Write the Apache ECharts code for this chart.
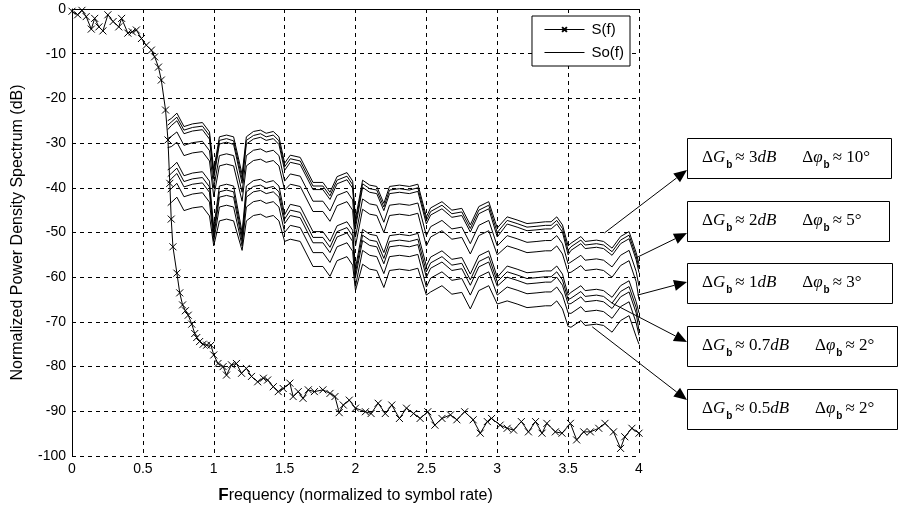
<!DOCTYPE html>
<html>
<head>
<meta charset="utf-8">
<script src="https://cdn.jsdelivr.net/npm/echarts@6/dist/echarts.min.js"></script>
<style>
html, body { margin: 0; padding: 0; background: #fff; }
#chart { width: 899px; height: 514px; }
</style>
</head>
<body>
<div id="chart"></div>
<script>
// S(f): spectrum with x markers
const sFreq = [0.00, 0.04, 0.07, 0.10, 0.136, 0.16, 0.19, 0.218, 0.253, 0.29, 0.33, 0.35, 0.394, 0.425, 0.454, 0.49, 0.524, 0.56, 0.583, 0.61,
  0.63, 0.66, 0.677, 0.69, 0.70, 0.712, 0.74, 0.76, 0.78, 0.80, 0.82, 0.845, 0.866, 0.88, 0.90, 0.925, 0.95, 0.98, 1.0, 1.03,
  1.066, 1.09, 1.125, 1.16, 1.196, 1.23, 1.266, 1.31, 1.35, 1.38, 1.42, 1.455, 1.49, 1.537, 1.56, 1.596, 1.63, 1.667, 1.71, 1.77,
  1.82, 1.855, 1.885, 1.914, 1.956, 2.0, 2.07, 2.11, 2.16, 2.21, 2.256, 2.31, 2.36, 2.41, 2.456, 2.51, 2.56, 2.61, 2.67, 2.715,
  2.77, 2.83, 2.88, 2.93, 2.96, 3.02, 3.07, 3.115, 3.17, 3.22, 3.27, 3.316, 3.35, 3.41, 3.457, 3.516, 3.56, 3.61, 3.657, 3.716,
  3.76, 3.82, 3.87, 3.90, 3.95, 4.0]
const sPsd = [-0.5, -1.3, -0.3, -1.7, -4.5, -2.1, -4.0, -4.9, -1.3, -2.8, -4.0, -2.1, -5.4, -5.1, -4.7, -6.6, -8.1, -9.2, -10.7, -13,
  -15.9, -22.6, -29.3, -39, -47, -53.2, -59.1, -63.5, -66.2, -67.5, -68.5, -70.5, -72.6, -73.5, -74.4, -75.0, -75.2, -75.2, -77.4, -79.3,
  -80, -81.9, -79.6, -79.3, -81.5, -80.4, -82.2, -83.4, -82.6, -83, -84.5, -85.6, -84.9, -83.7, -86.7, -85.6, -87.1, -85.2, -85.6, -85.2,
  -86, -86.7, -90.3, -88.6, -87.5, -89.3, -90.1, -90.5, -88.2, -90.5, -88.6, -91.6, -89.3, -90.5, -91.6, -90.1, -93.1, -91.6, -90.8, -91.9,
  -90.1, -91.9, -94.9, -92.3, -91.6, -93.1, -93.8, -94.2, -92.3, -94.6, -92.3, -94.9, -92.7, -94.6, -94.9, -92.7, -96.4, -94.6, -94.6, -93.8,
  -92.7, -94.6, -98.3, -95.7, -93.8, -94.9]

// So(f): output spectra, common frequency grid
const soFreq = [0.675, 0.70, 0.74, 0.79, 0.85, 0.92, 0.97, 1.00, 1.04, 1.09, 1.14, 1.20, 1.23, 1.28, 1.33, 1.37, 1.42, 1.46, 1.50, 1.54,
  1.61, 1.70, 1.77, 1.82, 1.87, 1.94, 1.98, 2.00, 2.05, 2.10, 2.15, 2.20, 2.24, 2.31, 2.38, 2.44, 2.50, 2.53, 2.61, 2.68,
  2.75, 2.81, 2.87, 2.94, 3.00, 3.07, 3.14, 3.21, 3.28, 3.34, 3.38, 3.42, 3.46, 3.50, 3.52, 3.59, 3.62, 3.70, 3.75, 3.81,
  3.87, 3.93, 3.98, 4.00]
const soA1 = [-25, -24.5, -23.3, -26.3, -25.7, -25.4, -27.5, -36, -28.6, -28.2, -28.6, -37, -28.6, -27.4, -27.1, -27.8, -27.4, -28.6, -34.5, -32.7,
  -33.2, -38.8, -38.8, -41, -37.5, -36.6, -38.5, -47, -38.3, -39.4, -39.7, -43.5, -39.7, -39.4, -39.7, -39.2, -46.5, -44.5, -43.1, -45,
  -44.6, -48.3, -44.2, -43.1, -49, -46.5, -47.2, -48, -47.8, -47.6, -47.6, -46.5, -48.3, -53, -52.4, -50.9, -52, -51.7, -52, -53.5,
  -50.9, -49.8, -54.5, -57]
const soA2 = [-26, -25.3, -24.2, -27.1, -26.5, -26.2, -28.3, -37, -29.4, -29.0, -29.5, -38, -29.4, -28.3, -27.9, -28.6, -28.2, -29.5, -35.3, -33.5,
  -34.0, -39.6, -39.6, -41.8, -38.3, -37.4, -39.3, -48, -39.1, -40.2, -40.5, -44.3, -40.5, -40.2, -40.5, -40.0, -47.3, -45.3, -43.9, -45.8,
  -45.4, -49.1, -45.0, -43.9, -50, -47.3, -48.0, -48.8, -48.6, -48.4, -48.4, -47.3, -49.1, -54, -53.2, -51.7, -52.8, -52.5, -52.8, -54.3,
  -51.7, -50.6, -55.3, -58]
const soA3 = [-27, -26.1, -25.0, -27.9, -27.3, -27.0, -29.1, -38, -30.2, -29.8, -30.3, -39, -30.2, -29.1, -28.7, -29.4, -29.0, -30.3, -36.1, -34.3,
  -34.8, -40.4, -40.4, -42.6, -39.1, -38.2, -40.1, -49, -39.9, -41.0, -41.3, -45.1, -41.3, -41.0, -41.3, -40.8, -48.1, -46.1, -44.7, -46.6,
  -46.2, -49.9, -45.8, -44.7, -51, -48.1, -48.8, -49.6, -49.4, -49.2, -49.2, -48.1, -49.9, -55, -54.0, -52.5, -53.6, -53.3, -53.6, -55.1,
  -52.5, -51.4, -56.1, -59]
const soB1 = [-29, -28.5, -27.5, -30.5, -29.9, -29.6, -31.7, -40, -32.8, -32.4, -32.8, -41, -32.8, -31.6, -31.3, -32.0, -31.6, -32.8, -38.5, -36.9,
  -37.4, -43.0, -43.0, -45.2, -41.7, -40.8, -42.7, -51, -42.5, -43.6, -43.9, -47.7, -43.9, -43.6, -43.9, -43.4, -50.7, -48.7, -47.3, -49.2,
  -48.8, -52.5, -48.4, -47.3, -53, -50.7, -51.4, -52.2, -52.0, -51.8, -51.8, -50.7, -52.5, -57, -56.6, -55.1, -56.2, -55.9, -56.2, -57.7,
  -55.1, -54.0, -58.7, -62]
const soB2 = [-31, -30.8, -29.8, -32.8, -32.2, -31.9, -34.0, -42, -35.1, -34.7, -35.1, -43, -35.1, -33.9, -33.6, -34.3, -33.9, -35.1, -40.5, -39.2,
  -39.7, -45.3, -45.3, -47.5, -44.0, -43.1, -45.0, -53, -44.8, -45.9, -46.2, -50.0, -46.2, -45.9, -46.2, -45.7, -53.0, -51.0, -49.6, -51.5,
  -51.1, -54.8, -50.7, -49.6, -55, -53.0, -53.7, -54.5, -54.3, -54.1, -54.1, -53.0, -54.8, -59, -58.9, -57.4, -58.5, -58.2, -58.5, -60.0,
  -57.4, -56.3, -61.0, -65]
const soC1 = [-36, -35.5, -34.3, -37.3, -36.7, -36.4, -38.5, -49, -39.6, -39.2, -39.6, -50, -39.6, -38.4, -38.1, -38.8, -38.4, -39.6, -46, -43.7,
  -44.2, -49.8, -49.8, -52, -48.5, -47.6, -49.5, -58, -49.3, -50.4, -50.7, -54.5, -50.7, -50.4, -50.7, -50.2, -57.5, -55.5, -54.1, -56,
  -55.6, -59.3, -55.2, -54.1, -60, -57.5, -58.2, -59.0, -58.8, -58.6, -58.6, -57.5, -59.3, -64, -63.4, -61.9, -63.0, -62.7, -63.0, -64.5,
  -61.9, -60.8, -65.5, -68]
const soC2 = [-37.5, -36.8, -35.6, -38.6, -38.0, -37.7, -39.8, -50, -40.9, -40.5, -40.9, -51, -40.9, -39.7, -39.4, -40.1, -39.7, -40.9, -47, -45.0,
  -45.5, -51.1, -51.1, -53.3, -49.8, -48.9, -50.8, -59, -50.6, -51.7, -52.0, -55.8, -52.0, -51.7, -52.0, -51.5, -58.8, -56.8, -55.4, -57.3,
  -56.9, -60.6, -56.5, -55.4, -61, -58.8, -59.5, -60.3, -60.1, -59.9, -59.9, -58.8, -60.6, -65, -64.7, -63.2, -64.3, -64.0, -64.3, -65.8,
  -63.2, -62.1, -66.8, -70]
const soC3 = [-39, -38.0, -36.8, -39.8, -39.2, -38.9, -41.0, -51, -42.1, -41.7, -42.1, -52, -42.1, -40.9, -40.6, -41.3, -40.9, -42.1, -48, -46.2,
  -46.7, -52.3, -52.3, -54.5, -51.0, -50.1, -52.0, -60, -51.8, -52.9, -53.2, -57.0, -53.2, -52.9, -53.2, -52.7, -60.0, -58.0, -56.6, -58.5,
  -58.1, -61.8, -57.7, -56.6, -62, -60.0, -60.7, -61.5, -61.3, -61.1, -61.1, -60.0, -61.8, -66, -65.9, -64.4, -65.5, -65.2, -65.5, -67.0,
  -64.4, -63.3, -68.0, -72]
const soD1 = [-41, -40.2, -39.0, -42.0, -41.4, -41.1, -43.2, -52, -44.3, -43.9, -44.3, -53, -44.3, -43.1, -42.8, -43.5, -43.1, -44.3, -50, -48.4,
  -48.9, -54.5, -54.5, -56.7, -53.2, -52.3, -54.2, -62, -54.0, -55.1, -55.4, -59.2, -55.4, -55.1, -55.4, -54.9, -62.2, -60.2, -58.8, -60.7,
  -60.3, -64.0, -59.9, -58.8, -64, -62.2, -62.9, -63.7, -63.5, -63.3, -63.3, -62.2, -64.0, -68, -68.1, -66.6, -67.7, -67.4, -67.7, -69.2,
  -66.6, -65.5, -70.2, -73]
const soD2 = [-44, -43.3, -42.1, -45.1, -44.5, -44.2, -46.3, -53, -47.4, -47.0, -47.4, -54, -47.4, -46.2, -45.9, -46.6, -46.2, -47.4, -52, -51.5,
  -52.0, -57.6, -57.6, -59.8, -56.3, -55.4, -57.3, -63, -57.1, -58.2, -58.5, -62.3, -58.5, -58.2, -58.5, -58.0, -64, -63.3, -61.9, -63.8,
  -63.4, -67.1, -63.0, -61.9, -66, -65.3, -66.0, -66.8, -66.6, -66.4, -66.4, -65.3, -67.1, -71, -71.2, -69.7, -70.8, -70.5, -70.8, -72.3,
  -69.7, -68.6, -73.3, -75]
const soCurves = [soA1, soA2, soA3, soB1, soB2, soC1, soC2, soC3, soD1, soD2]

// annotations: gain / phase imbalance, and the curve point each arrow leaves from
const annoGain = ['3', '2', '1', '0.7', '0.5']
const annoPhase = ['10', '5', '3', '2', '2']
const annoFrom = [[3.756, -50.1], [3.99, -55.5], [3.99, -64], [3.81, -65.8], [3.67, -71.1]]

const zip = (xs, ys) => xs.map((x, i) => [x, ys[i]])
const font = 'Liberation Sans, Arial, sans-serif'
const serif = 'Liberation Serif, Times New Roman, serif'
const xMark = 'path://M0,0L10,10M10,0L0,10'

const chart = echarts.init(document.getElementById('chart'))

const series = [{
  name: 'S(f)',
  type: 'line',
  data: zip(sFreq, sPsd),
  symbol: xMark,
  symbolSize: 7,
  showAllSymbol: true,
  itemStyle: { color: '#000', borderColor: '#000', borderWidth: 1 },
  lineStyle: { color: '#000', width: 1 },
  z: 5
}]
soCurves.forEach((c) => {
  series.push({
    name: 'So(f)',
    type: 'line',
    data: zip(soFreq, c),
    symbol: 'none',
    lineStyle: { color: '#000', width: 1 },
    itemStyle: { color: '#000' }
  })
})

chart.setOption({
  animation: false,
  backgroundColor: '#fff',
  grid: { left: 72, right: 260, top: 9, bottom: 58 },
  legend: {
    data: [
      { name: 'S(f)', lineStyle: { width: 1 } },
      { name: 'So(f)', itemStyle: { opacity: 0 }, lineStyle: { width: 1 } }
    ],
    orient: 'vertical',
    right: 269,
    top: 16,
    itemWidth: 40,
    itemHeight: 6,
    itemGap: 8,
    padding: [6, 6, 6, 12],
    borderColor: '#000',
    borderWidth: 1,
    backgroundColor: '#fff',
    textStyle: { fontFamily: font, fontSize: 15, color: '#000', padding: [0, 0, 0, 2] }
  },
  xAxis: {
    type: 'value',
    min: 0,
    max: 4,
    interval: 0.5,
    name: '{b|F}requency (normalized to symbol rate)',
    nameLocation: 'middle',
    nameGap: 31,
    nameTextStyle: {
      fontFamily: font, fontSize: 16, color: '#000',
      rich: { b: { fontFamily: font, fontSize: 17, fontWeight: 'bold', color: '#000' } }
    },
    axisLine: { lineStyle: { color: '#000', width: 1 } },
    axisTick: { show: false },
    axisLabel: { fontFamily: font, fontSize: 14, color: '#000', margin: 6, formatter: (v) => String(v) },
    splitLine: { show: true, lineStyle: { color: '#000', type: [4, 4], width: 1 } }
  },
  yAxis: {
    type: 'value',
    min: -100,
    max: 0,
    interval: 10,
    name: 'Normalized Power Density Spectrum (dB)',
    nameLocation: 'middle',
    nameGap: 46,
    nameTextStyle: { fontFamily: font, fontSize: 16, color: '#000' },
    axisLine: { show: true, lineStyle: { color: '#000', width: 1 } },
    axisTick: { show: false },
    axisLabel: { fontFamily: font, fontSize: 14, color: '#000', margin: 6 },
    splitLine: { show: true, lineStyle: { color: '#000', type: [4, 4], width: 1 } }
  },
  series: series
})

// annotation boxes with arrows
const boxLeft = 687
const boxTop = [138, 201, 263, 326, 389]
const boxRight = [891, 889, 892, 897, 897]
const tipY = [170, 233, 282, 342, 400]
const rich = {
  n: { fontFamily: serif, fontSize: 17, color: '#000', lineHeight: 24 },
  i: { fontFamily: serif, fontSize: 17, fontStyle: 'italic', color: '#000', lineHeight: 24 },
  s: { fontFamily: font, fontSize: 10, fontWeight: 'bold', color: '#000', lineHeight: 10, verticalAlign: 'bottom', padding: [0, 3, 0, 1] },
  sp: { width: 26 }
}
const elements = []
annoGain.forEach((g, i) => {
  const h = 40
  elements.push({
    type: 'rect',
    shape: { x: boxLeft + 0.5, y: boxTop[i] + 0.5, width: boxRight[i] - boxLeft, height: h },
    style: { fill: '#fff', stroke: '#000', lineWidth: 1 }
  })
  elements.push({
    type: 'text',
    x: boxLeft + 15,
    y: boxTop[i] + h / 2,
    style: {
      text: '{n|Δ}{i|G}{s|b}{n|≈ ' + g + '}{i|dB}{sp|}{n|Δ}{i|φ}{s|b}{n|≈ ' + annoPhase[i] + '°}',
      rich: rich,
      verticalAlign: 'middle'
    }
  })
  const p0 = chart.convertToPixel({ gridIndex: 0 }, annoFrom[i])
  const p1 = [boxLeft, tipY[i]]
  const dx = p1[0] - p0[0]
  const dy = p1[1] - p0[1]
  const len = Math.sqrt(dx * dx + dy * dy)
  const ux = dx / len
  const uy = dy / len
  const headL = 13
  const headW = 5.5
  const bx = p1[0] - ux * headL
  const by = p1[1] - uy * headL
  elements.push({
    type: 'line',
    shape: { x1: p0[0], y1: p0[1], x2: bx, y2: by },
    style: { stroke: '#000', lineWidth: 1 },
    z: 10
  })
  elements.push({
    type: 'polygon',
    shape: { points: [p1, [bx - uy * headW, by + ux * headW], [bx + uy * headW, by - ux * headW]] },
    style: { fill: '#000' },
    z: 10
  })
})
chart.setOption({ graphic: { elements: elements } })
</script>
</body>
</html>
